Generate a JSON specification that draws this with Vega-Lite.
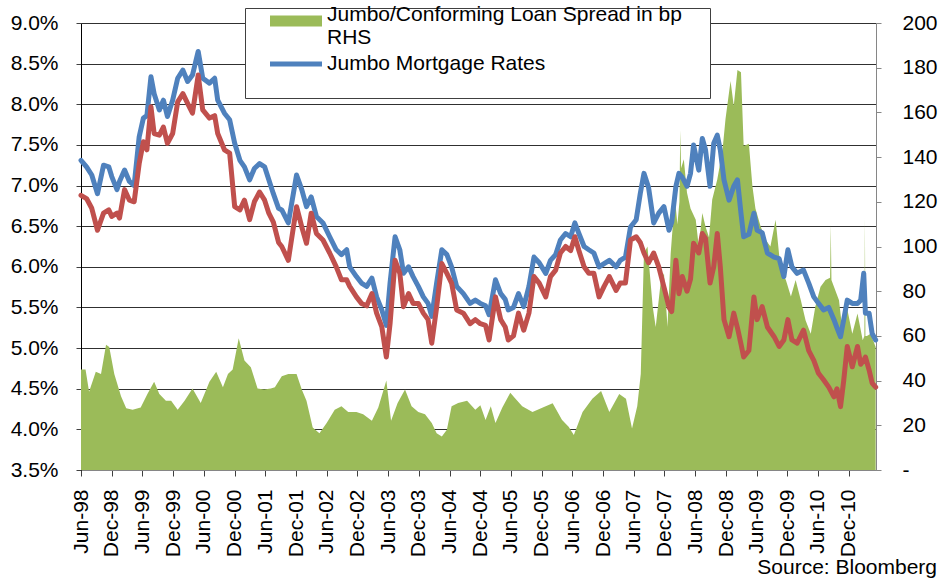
{
  "$schema": "https://vega.github.io/schema/vega-lite/v6.json",
  "width": 795,
  "height": 447,
  "autosize": {"type": "none"},
  "padding": {"left": 81, "top": 23, "right": 69, "bottom": 108},
  "background": "white",
  "config": {
    "font": "Liberation Sans",
    "view": {"stroke": null},
    "axis": {"labelFont": "Liberation Sans", "labelFontSize": 21, "labelColor": "#000000", "title": null}
  },
  "title": {"text": "Source: Bloomberg", "orient": "bottom", "anchor": "end", "frame": "bounds", "fontSize": 21, "fontWeight": "normal", "color": "#000000", "offset": 0},
  "datasets": {
    "rates": [
      {"date":"1998-06-01","jumbo":7.31,"conforming":6.88},
      {"date":"1998-07-04","jumbo":7.23,"conforming":6.84},
      {"date":"1998-08-04","jumbo":7.13,"conforming":6.72},
      {"date":"1998-09-07","jumbo":6.90,"conforming":6.45},
      {"date":"1998-10-13","jumbo":7.25,"conforming":6.66},
      {"date":"1998-11-13","jumbo":7.23,"conforming":6.70},
      {"date":"1998-12-01","jumbo":7.11,"conforming":6.62},
      {"date":"1999-01-01","jumbo":6.95,"conforming":6.66},
      {"date":"1999-01-16","jumbo":7.05,"conforming":6.60},
      {"date":"1999-02-15","jumbo":7.19,"conforming":6.95},
      {"date":"1999-03-16","jumbo":7.05,"conforming":6.82},
      {"date":"1999-04-13","jumbo":7.00,"conforming":6.80},
      {"date":"1999-05-13","jumbo":7.60,"conforming":7.27},
      {"date":"1999-06-07","jumbo":7.83,"conforming":7.54},
      {"date":"1999-06-28","jumbo":7.86,"conforming":7.44},
      {"date":"1999-07-22","jumbo":8.34,"conforming":7.97},
      {"date":"1999-08-10","jumbo":8.13,"conforming":7.64},
      {"date":"1999-09-10","jumbo":7.93,"conforming":7.62},
      {"date":"1999-10-04","jumbo":8.05,"conforming":7.72},
      {"date":"1999-10-28","jumbo":7.85,"conforming":7.52},
      {"date":"1999-11-28","jumbo":8.05,"conforming":7.64},
      {"date":"1999-12-28","jumbo":8.32,"conforming":8.03},
      {"date":"2000-01-28","jumbo":8.42,"conforming":8.13},
      {"date":"2000-02-25","jumbo":8.28,"conforming":8.01},
      {"date":"2000-03-25","jumbo":8.36,"conforming":7.89},
      {"date":"2000-04-28","jumbo":8.65,"conforming":8.36},
      {"date":"2000-05-25","jumbo":8.32,"conforming":7.93},
      {"date":"2000-07-04","jumbo":8.26,"conforming":7.83},
      {"date":"2000-08-04","jumbo":8.32,"conforming":7.86},
      {"date":"2000-08-22","jumbo":8.05,"conforming":7.64},
      {"date":"2000-10-01","jumbo":7.89,"conforming":7.44},
      {"date":"2000-11-01","jumbo":7.81,"conforming":7.40},
      {"date":"2000-12-01","jumbo":7.52,"conforming":6.74},
      {"date":"2001-01-01","jumbo":7.31,"conforming":6.70},
      {"date":"2001-01-28","jumbo":7.23,"conforming":6.82},
      {"date":"2001-02-28","jumbo":7.07,"conforming":6.58},
      {"date":"2001-03-28","jumbo":7.21,"conforming":6.80},
      {"date":"2001-04-28","jumbo":7.27,"conforming":6.92},
      {"date":"2001-05-28","jumbo":7.23,"conforming":6.82},
      {"date":"2001-06-22","jumbo":7.07,"conforming":6.66},
      {"date":"2001-07-19","jumbo":6.90,"conforming":6.55},
      {"date":"2001-08-19","jumbo":6.72,"conforming":6.30},
      {"date":"2001-09-07","jumbo":6.70,"conforming":6.25},
      {"date":"2001-10-16","jumbo":6.54,"conforming":6.08},
      {"date":"2001-12-04","jumbo":7.13,"conforming":6.74},
      {"date":"2002-01-04","jumbo":6.95,"conforming":6.49},
      {"date":"2002-02-01","jumbo":6.74,"conforming":6.29},
      {"date":"2002-03-01","jumbo":6.86,"conforming":6.66},
      {"date":"2002-04-01","jumbo":6.62,"conforming":6.41},
      {"date":"2002-05-10","jumbo":6.54,"conforming":6.33},
      {"date":"2002-06-19","jumbo":6.37,"conforming":6.17},
      {"date":"2002-07-28","jumbo":6.21,"conforming":6.00},
      {"date":"2002-08-28","jumbo":6.15,"conforming":5.84},
      {"date":"2002-09-28","jumbo":6.21,"conforming":5.84},
      {"date":"2002-10-16","jumbo":6.00,"conforming":5.76},
      {"date":"2002-11-25","jumbo":5.88,"conforming":5.63},
      {"date":"2002-12-25","jumbo":5.80,"conforming":5.55},
      {"date":"2003-01-25","jumbo":5.76,"conforming":5.52},
      {"date":"2003-02-25","jumbo":5.86,"conforming":5.67},
      {"date":"2003-03-25","jumbo":5.63,"conforming":5.43},
      {"date":"2003-04-25","jumbo":5.47,"conforming":5.26},
      {"date":"2003-05-22","jumbo":5.28,"conforming":4.89},
      {"date":"2003-06-13","jumbo":5.80,"conforming":5.30},
      {"date":"2003-07-13","jumbo":6.37,"conforming":6.08},
      {"date":"2003-08-10","jumbo":6.21,"conforming":5.92},
      {"date":"2003-09-01","jumbo":5.92,"conforming":5.51},
      {"date":"2003-10-01","jumbo":6.00,"conforming":5.67},
      {"date":"2003-10-28","jumbo":5.88,"conforming":5.55},
      {"date":"2003-11-28","jumbo":5.76,"conforming":5.55},
      {"date":"2003-12-28","jumbo":5.63,"conforming":5.43},
      {"date":"2004-01-25","jumbo":5.55,"conforming":5.35},
      {"date":"2004-02-16","jumbo":5.39,"conforming":5.06},
      {"date":"2004-03-16","jumbo":5.80,"conforming":5.50},
      {"date":"2004-04-16","jumbo":6.21,"conforming":6.04},
      {"date":"2004-05-16","jumbo":6.15,"conforming":5.92},
      {"date":"2004-06-13","jumbo":6.00,"conforming":5.80},
      {"date":"2004-07-13","jumbo":5.76,"conforming":5.47},
      {"date":"2004-08-22","jumbo":5.67,"conforming":5.43},
      {"date":"2004-10-01","jumbo":5.55,"conforming":5.30},
      {"date":"2004-11-01","jumbo":5.59,"conforming":5.35},
      {"date":"2004-12-01","jumbo":5.55,"conforming":5.30},
      {"date":"2005-01-01","jumbo":5.52,"conforming":5.28},
      {"date":"2005-01-22","jumbo":5.41,"conforming":5.10},
      {"date":"2005-03-01","jumbo":5.84,"conforming":5.63},
      {"date":"2005-04-01","jumbo":5.67,"conforming":5.35},
      {"date":"2005-04-28","jumbo":5.60,"conforming":5.26},
      {"date":"2005-05-16","jumbo":5.47,"conforming":5.10},
      {"date":"2005-06-16","jumbo":5.50,"conforming":5.15},
      {"date":"2005-07-16","jumbo":5.67,"conforming":5.43},
      {"date":"2005-08-16","jumbo":5.51,"conforming":5.22},
      {"date":"2005-09-16","jumbo":5.76,"conforming":5.43},
      {"date":"2005-10-16","jumbo":6.12,"conforming":5.88},
      {"date":"2005-11-16","jumbo":6.05,"conforming":5.80},
      {"date":"2005-12-25","jumbo":5.92,"conforming":5.63},
      {"date":"2006-01-22","jumbo":6.08,"conforming":5.88},
      {"date":"2006-02-22","jumbo":6.15,"conforming":5.96},
      {"date":"2006-03-22","jumbo":6.33,"conforming":6.17},
      {"date":"2006-04-22","jumbo":6.41,"conforming":6.25},
      {"date":"2006-05-22","jumbo":6.37,"conforming":6.20},
      {"date":"2006-06-16","jumbo":6.54,"conforming":6.37},
      {"date":"2006-07-10","jumbo":6.41,"conforming":6.20},
      {"date":"2006-08-10","jumbo":6.25,"conforming":6.00},
      {"date":"2006-09-07","jumbo":6.21,"conforming":5.92},
      {"date":"2006-10-07","jumbo":6.17,"conforming":5.92},
      {"date":"2006-11-07","jumbo":6.00,"conforming":5.63},
      {"date":"2006-12-07","jumbo":6.04,"conforming":5.76},
      {"date":"2007-01-07","jumbo":6.08,"conforming":5.88},
      {"date":"2007-02-16","jumbo":6.00,"conforming":5.71},
      {"date":"2007-03-13","jumbo":6.08,"conforming":5.80},
      {"date":"2007-04-13","jumbo":6.12,"conforming":5.80},
      {"date":"2007-05-13","jumbo":6.49,"conforming":6.33},
      {"date":"2007-06-16","jumbo":6.58,"conforming":6.37},
      {"date":"2007-07-10","jumbo":6.90,"conforming":6.30},
      {"date":"2007-08-01","jumbo":7.15,"conforming":6.17},
      {"date":"2007-08-28","jumbo":6.98,"conforming":6.05},
      {"date":"2007-09-28","jumbo":6.54,"conforming":6.17},
      {"date":"2007-10-28","jumbo":6.66,"conforming":6.00},
      {"date":"2007-11-28","jumbo":6.74,"conforming":5.75},
      {"date":"2007-12-28","jumbo":6.45,"conforming":5.50},
      {"date":"2008-01-13","jumbo":6.55,"conforming":5.45},
      {"date":"2008-02-07","jumbo":6.99,"conforming":6.08},
      {"date":"2008-02-25","jumbo":7.15,"conforming":5.67},
      {"date":"2008-03-16","jumbo":7.10,"conforming":5.88},
      {"date":"2008-04-13","jumbo":6.99,"conforming":5.70},
      {"date":"2008-05-04","jumbo":7.15,"conforming":5.85},
      {"date":"2008-05-22","jumbo":7.50,"conforming":6.29},
      {"date":"2008-06-22","jumbo":7.19,"conforming":6.17},
      {"date":"2008-07-13","jumbo":7.58,"conforming":6.41},
      {"date":"2008-08-01","jumbo":7.44,"conforming":6.35},
      {"date":"2008-08-28","jumbo":6.99,"conforming":5.80},
      {"date":"2008-09-19","jumbo":7.52,"conforming":6.00},
      {"date":"2008-10-10","jumbo":7.62,"conforming":6.41},
      {"date":"2008-10-28","jumbo":7.44,"conforming":6.00},
      {"date":"2008-11-19","jumbo":7.07,"conforming":5.35},
      {"date":"2008-12-19","jumbo":6.82,"conforming":5.14},
      {"date":"2009-01-16","jumbo":6.99,"conforming":5.43},
      {"date":"2009-02-07","jumbo":7.07,"conforming":5.25},
      {"date":"2009-02-28","jumbo":6.66,"conforming":5.05},
      {"date":"2009-03-16","jumbo":6.37,"conforming":4.89},
      {"date":"2009-04-16","jumbo":6.40,"conforming":4.97},
      {"date":"2009-05-16","jumbo":6.66,"conforming":5.63},
      {"date":"2009-06-04","jumbo":6.45,"conforming":5.35},
      {"date":"2009-07-04","jumbo":6.42,"conforming":5.51},
      {"date":"2009-08-04","jumbo":6.17,"conforming":5.26},
      {"date":"2009-09-13","jumbo":6.12,"conforming":5.14},
      {"date":"2009-10-13","jumbo":6.10,"conforming":5.02},
      {"date":"2009-11-10","jumbo":5.88,"conforming":5.10},
      {"date":"2009-12-04","jumbo":6.21,"conforming":5.35},
      {"date":"2009-12-28","jumbo":6.00,"conforming":5.10},
      {"date":"2010-01-28","jumbo":5.92,"conforming":5.06},
      {"date":"2010-03-07","jumbo":5.96,"conforming":5.22},
      {"date":"2010-04-07","jumbo":5.80,"conforming":4.97},
      {"date":"2010-05-07","jumbo":5.63,"conforming":4.85},
      {"date":"2010-06-04","jumbo":5.55,"conforming":4.69},
      {"date":"2010-07-04","jumbo":5.47,"conforming":4.61},
      {"date":"2010-08-04","jumbo":5.50,"conforming":4.52},
      {"date":"2010-09-04","jumbo":5.35,"conforming":4.40},
      {"date":"2010-09-22","jumbo":5.25,"conforming":4.50},
      {"date":"2010-10-13","jumbo":5.14,"conforming":4.28},
      {"date":"2010-11-01","jumbo":5.35,"conforming":4.60},
      {"date":"2010-11-22","jumbo":5.59,"conforming":5.02},
      {"date":"2010-12-22","jumbo":5.55,"conforming":4.77},
      {"date":"2011-01-22","jumbo":5.55,"conforming":5.02},
      {"date":"2011-02-10","jumbo":5.59,"conforming":4.80},
      {"date":"2011-02-28","jumbo":5.92,"conforming":4.85},
      {"date":"2011-03-10","jumbo":5.43,"conforming":4.89},
      {"date":"2011-04-01","jumbo":5.43,"conforming":4.73},
      {"date":"2011-04-19","jumbo":5.18,"conforming":4.57},
      {"date":"2011-05-10","jumbo":5.10,"conforming":4.52}
    ],
    "spread": [
      {"date":"1998-06-01","spread":45},
      {"date":"1998-06-28","spread":45},
      {"date":"1998-07-19","spread":35},
      {"date":"1998-08-28","spread":44},
      {"date":"1998-09-28","spread":43},
      {"date":"1998-10-28","spread":56},
      {"date":"1998-11-16","spread":55},
      {"date":"1998-12-16","spread":43},
      {"date":"1999-01-25","spread":33},
      {"date":"1999-02-25","spread":27.6},
      {"date":"1999-04-04","spread":27},
      {"date":"1999-05-22","spread":28},
      {"date":"1999-07-01","spread":34},
      {"date":"1999-08-10","spread":39.5},
      {"date":"1999-09-10","spread":34},
      {"date":"1999-10-19","spread":31},
      {"date":"1999-11-19","spread":31},
      {"date":"1999-12-28","spread":27},
      {"date":"2000-02-07","spread":31},
      {"date":"2000-03-25","spread":36.5},
      {"date":"2000-05-13","spread":30},
      {"date":"2000-07-04","spread":39.5},
      {"date":"2000-08-13","spread":44},
      {"date":"2000-09-22","spread":37},
      {"date":"2000-10-22","spread":43},
      {"date":"2000-11-19","spread":45},
      {"date":"2000-12-25","spread":59},
      {"date":"2001-01-28","spread":49},
      {"date":"2001-03-07","spread":46},
      {"date":"2001-04-16","spread":36.5},
      {"date":"2001-05-25","spread":36},
      {"date":"2001-07-04","spread":36.5},
      {"date":"2001-07-28","spread":37},
      {"date":"2001-09-07","spread":42},
      {"date":"2001-10-16","spread":43},
      {"date":"2001-12-04","spread":43},
      {"date":"2002-01-04","spread":36},
      {"date":"2002-02-01","spread":31},
      {"date":"2002-03-10","spread":19},
      {"date":"2002-04-19","spread":16.4},
      {"date":"2002-06-01","spread":21},
      {"date":"2002-07-19","spread":27},
      {"date":"2002-08-28","spread":28.5},
      {"date":"2002-10-07","spread":26},
      {"date":"2002-11-25","spread":26},
      {"date":"2003-01-04","spread":25},
      {"date":"2003-02-25","spread":22},
      {"date":"2003-04-04","spread":28},
      {"date":"2003-05-22","spread":40},
      {"date":"2003-06-19","spread":22},
      {"date":"2003-07-28","spread":30},
      {"date":"2003-09-10","spread":36},
      {"date":"2003-10-19","spread":28.5},
      {"date":"2003-11-28","spread":26},
      {"date":"2004-01-07","spread":25},
      {"date":"2004-02-16","spread":21},
      {"date":"2004-03-16","spread":16.4},
      {"date":"2004-04-16","spread":15},
      {"date":"2004-05-16","spread":18},
      {"date":"2004-06-13","spread":28.5},
      {"date":"2004-07-22","spread":30},
      {"date":"2004-09-13","spread":31},
      {"date":"2004-11-01","spread":27},
      {"date":"2004-12-01","spread":29},
      {"date":"2005-01-01","spread":22.4},
      {"date":"2005-02-01","spread":28.5},
      {"date":"2005-03-01","spread":21},
      {"date":"2005-04-10","spread":27.8},
      {"date":"2005-05-28","spread":34.6},
      {"date":"2005-06-28","spread":31.9},
      {"date":"2005-08-07","spread":28.5},
      {"date":"2005-10-07","spread":25.9},
      {"date":"2005-12-04","spread":27.8},
      {"date":"2006-02-04","spread":29.9},
      {"date":"2006-04-01","spread":22.4},
      {"date":"2006-05-10","spread":19.4},
      {"date":"2006-06-10","spread":15.7},
      {"date":"2006-08-01","spread":26},
      {"date":"2006-09-28","spread":31.9},
      {"date":"2006-11-19","spread":35.4},
      {"date":"2007-01-07","spread":26},
      {"date":"2007-03-07","spread":34},
      {"date":"2007-04-16","spread":31.9},
      {"date":"2007-05-22","spread":18.6},
      {"date":"2007-06-22","spread":28.5},
      {"date":"2007-07-13","spread":43},
      {"date":"2007-08-01","spread":97},
      {"date":"2007-08-22","spread":100},
      {"date":"2007-09-22","spread":73},
      {"date":"2007-10-10","spread":64},
      {"date":"2007-11-10","spread":85},
      {"date":"2007-11-28","spread":88},
      {"date":"2007-12-19","spread":64},
      {"date":"2008-01-07","spread":97},
      {"date":"2008-01-19","spread":109},
      {"date":"2008-01-25","spread":127},
      {"date":"2008-02-16","spread":110},
      {"date":"2008-02-28","spread":120},
      {"date":"2008-03-04","spread":152},
      {"date":"2008-03-09","spread":135},
      {"date":"2008-03-25","spread":139},
      {"date":"2008-04-13","spread":124},
      {"date":"2008-05-04","spread":117},
      {"date":"2008-06-04","spread":112},
      {"date":"2008-06-22","spread":100},
      {"date":"2008-07-13","spread":115},
      {"date":"2008-08-01","spread":109},
      {"date":"2008-08-22","spread":104},
      {"date":"2008-09-10","spread":121},
      {"date":"2008-10-10","spread":130},
      {"date":"2008-11-10","spread":143},
      {"date":"2008-11-28","spread":157},
      {"date":"2008-12-28","spread":174},
      {"date":"2009-01-16","spread":163},
      {"date":"2009-02-07","spread":179},
      {"date":"2009-02-28","spread":178},
      {"date":"2009-03-16","spread":145},
      {"date":"2009-04-16","spread":146},
      {"date":"2009-05-07","spread":127},
      {"date":"2009-05-25","spread":117},
      {"date":"2009-06-25","spread":109},
      {"date":"2009-07-25","spread":103},
      {"date":"2009-08-22","spread":100},
      {"date":"2009-09-22","spread":112},
      {"date":"2009-10-22","spread":89.5},
      {"date":"2009-11-22","spread":85},
      {"date":"2009-12-22","spread":77.6},
      {"date":"2010-01-19","spread":85},
      {"date":"2010-02-19","spread":76},
      {"date":"2010-03-19","spread":67},
      {"date":"2010-04-19","spread":61},
      {"date":"2010-05-16","spread":73},
      {"date":"2010-06-16","spread":82},
      {"date":"2010-07-16","spread":85},
      {"date":"2010-08-12","spread":86},
      {"date":"2010-08-16","spread":110},
      {"date":"2010-08-20","spread":85},
      {"date":"2010-09-04","spread":82},
      {"date":"2010-10-04","spread":76},
      {"date":"2010-10-22","spread":64},
      {"date":"2010-11-22","spread":72},
      {"date":"2010-12-22","spread":61},
      {"date":"2011-01-22","spread":70},
      {"date":"2011-02-22","spread":58},
      {"date":"2011-03-04","spread":60},
      {"date":"2011-03-07","spread":113},
      {"date":"2011-03-10","spread":60},
      {"date":"2011-03-19","spread":60},
      {"date":"2011-04-10","spread":61},
      {"date":"2011-05-10","spread":55}
    ]
  },
  "encoding": {
    "x": {
      "field": "date", "type": "temporal",
      "scale": {"type": "utc", "domain": [896659200000, 1305158400000]},
      "axis": {
        "values": [896659200000, 912470400000, 928195200000, 944006400000, 959817600000, 975628800000, 991353600000, 1007164800000, 1022889600000, 1038700800000, 1054425600000, 1070236800000, 1086048000000, 1101859200000, 1117584000000, 1133395200000, 1149120000000, 1164931200000, 1180656000000, 1196467200000, 1212278400000, 1228089600000, 1243814400000, 1259625600000, 1275350400000, 1291161600000],
        "tickCount": 40,
        "labelExpr": "utcFormat(datum.value, '%b-%y')",
        "labelAngle": -90, "labelAlign": "right", "labelBaseline": "middle",
        "labelPadding": 13, "tickSize": 6, "tickColor": "#404040", "domainColor": "#868686",
        "grid": false, "labelOverlap": false, "labelFlush": false, "title": null
      }
    }
  },
  "layer": [
    {
      "data": {"name": "spread"},
      "mark": {"type": "area", "interpolate": "linear", "opacity": 1},
      "encoding": {
        "y": {
          "field": "spread", "type": "quantitative",
          "scale": {"domain": [0, 200], "nice": false},
          "axis": {
            "orient": "right", "values": [0,20,40,60,80,100,120,140,160,180,200],
            "labelExpr": "datum.value == 0 ? '-' : datum.label",
            "grid": false, "domainColor": "#868686", "tickColor": "#868686", "tickSize": 5,
            "labelPadding": 21, "title": null
          }
        },
        "fill": {
          "datum": "Jumbo/Conforming Loan Spread in bp RHS",
          "scale": {"domain": ["Jumbo/Conforming Loan Spread in bp RHS"], "range": ["#9BBB59"]},
          "legend": {
            "orient": "none", "legendX": 164, "legendY": -15,
            "title": null, "fillColor": "white", "strokeColor": "#404040", "padding": 4,
            "symbolType": "M-1,-0.21H1V0.21H-1Z", "symbolSize": 2704, "symbolStrokeWidth": 0,
            "symbolOffset": 21, "labelOffset": 5, "clipHeight": 18,
            "labelFontSize": 21, "labelColor": "#000000", "labelLimit": 700, "labelBaseline": "alphabetic",
            "labelExpr": "['Jumbo/Conforming Loan Spread in bp\u00a0\u00a0\u00a0\u00a0\u200b', 'RHS', '', '']",
            "encode": {"labels": {"dy": {"value": 8.5}, "lineHeight": {"value": 20.5}}}
          }
        }
      }
    },
    {
      "data": {"name": "rates"},
      "layer": [
        {
          "mark": {"type": "line", "strokeWidth": 5, "strokeJoin": "round", "strokeCap": "round"},
          "encoding": {
            "y": {
              "field": "jumbo", "type": "quantitative",
              "scale": {"domain": [3.5, 9.0], "nice": false, "zero": false},
              "axis": {
                "orient": "left", "values": [3.5,4.0,4.5,5.0,5.5,6.0,6.5,7.0,7.5,8.0,8.5,9.0],
                "labelExpr": "format(datum.value, '.1f') + '%'",
                "grid": true, "gridColor": "#303030", "gridWidth": 1.2,
                "domainColor": "#000000", "tickColor": "#404040", "tickSize": 5,
                "labelPadding": 18, "title": null
              }
            },
            "stroke": {
              "datum": "Jumbo Mortgage Rates",
              "scale": {"domain": ["Jumbo Mortgage Rates"], "range": ["#4F81BD"]},
              "legend": {
                "orient": "none", "legendX": 164, "legendY": 30,
                "title": null, "padding": 4,
                "symbolType": "stroke", "symbolSize": 2704, "symbolStrokeWidth": 5,
                "symbolOffset": 18.5, "labelOffset": 2.5, "clipHeight": 14,
                "labelFontSize": 21, "labelColor": "#000000", "labelLimit": 700, "labelBaseline": "middle"
              }
            }
          }
        },
        {
          "mark": {"type": "line", "color": "#C0504D", "strokeWidth": 5, "strokeJoin": "round", "strokeCap": "round"},
          "encoding": {
            "y": {"field": "conforming", "type": "quantitative"}
          }
        }
      ]
    }
  ],
  "resolve": {"scale": {"y": "independent"}}
}
